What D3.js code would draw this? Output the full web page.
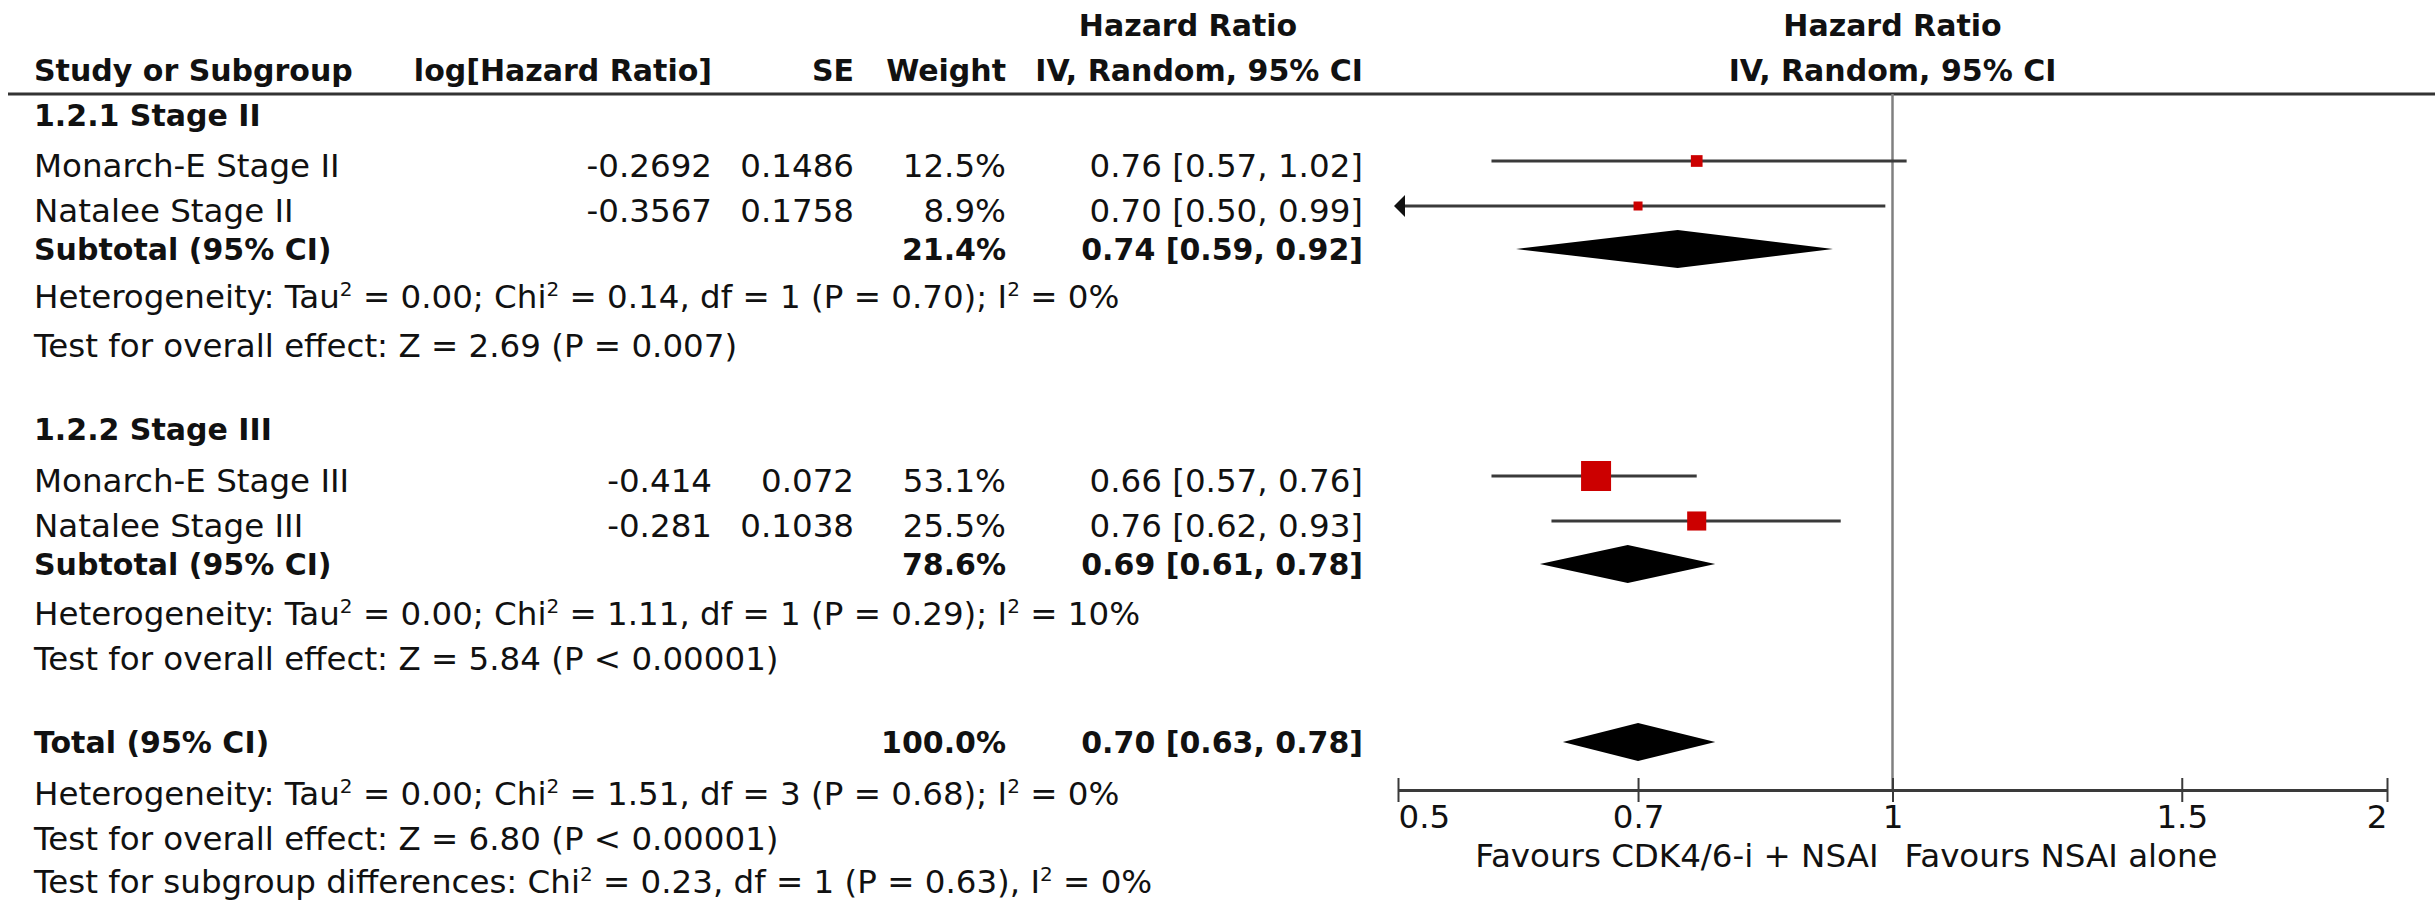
<!DOCTYPE html>
<html>
<head>
<meta charset="utf-8">
<title>Hazard Ratio - Stage II / Stage III</title>
<script src="https://d3js.org/d3.v7.min.js"></script>
<style>
body { margin: 0; background: white; }
svg { display: block; background: white; }
text { font-family: "DejaVu Sans", sans-serif; fill: #111; }
</style>
</head>
<body>
<svg id="plot"></svg>
<script>
// study rows
const studies = ["Monarch-E Stage II", "Natalee Stage II", "Monarch-E Stage III", "Natalee Stage III"];
const logHR = [-0.2692, -0.3567, -0.414, -0.281];
const se = [0.1486, 0.1758, 0.072, 0.1038];
const weight = [12.5, 8.9, 53.1, 25.5];
const hr = [0.76, 0.70, 0.66, 0.76];
const ciLow = [0.57, 0.50, 0.57, 0.62];
const ciHigh = [1.02, 0.99, 0.76, 0.93];

// subgroups
const groupNames = ["1.2.1 Stage II", "1.2.2 Stage III"];
const groupStudies = [[0, 1], [2, 3]];
const groupWeight = [21.4, 78.6];
const groupHR = [0.74, 0.69];
const groupLow = [0.59, 0.61];
const groupHigh = [0.92, 0.78];
const groupTau2 = ["0.00", "0.00"];
const groupChi2 = ["0.14", "1.11"];
const groupDf = [1, 1];
const groupHetP = ["= 0.70", "= 0.29"];
const groupI2 = [0, 10];
const groupZ = ["2.69", "5.84"];
const groupZP = ["= 0.007", "< 0.00001"];

// overall
const totalWeight = 100.0;
const totalHR = 0.70, totalLow = 0.63, totalHigh = 0.78;
const totalTau2 = "0.00", totalChi2 = "1.51", totalDf = 3, totalHetP = "= 0.68", totalI2 = 0;
const totalZ = "6.80", totalZP = "< 0.00001";
const diffChi2 = "0.23", diffDf = 1, diffP = "= 0.63", diffI2 = 0;

const axisTicks = [0.5, 0.7, 1, 1.5, 2];
const favours = ["Favours CDK4/6-i + NSAI", "Favours NSAI alone"];

// layout
const W = 2435, H = 901;
const fs = 32.5, fsBold = 30;
const col = {name: 34, logHR: 712, se: 854, weight: 1006, ci: 1363, ciHead: 1188};
const rowKeys = ["hdr1", "hdr2", "g0", "s0", "s1", "sub0", "het0", "z0",
                 "g1", "s2", "s3", "sub1", "het1", "z1", "tot", "hetT", "zT", "diff"];
const rowBase = [36, 81, 126, 177, 222, 260, 308, 357,
                 440, 492, 537, 575, 625, 670, 753, 805, 850, 893];
const ruleY = 94, axisY = 790;

var y = d3.scaleOrdinal().domain(rowKeys).range(rowBase);
var x = d3.scaleLog().domain([0.5, 2]).range([1398, 2387]);
var boxSize = d3.scaleSqrt().domain(d3.extent(weight)).range([9, 30]);

var f2 = d3.format(".2f");
var f1 = d3.format(".1f");
function ciText(m, lo, hi) { return f2(m) + " [" + f2(lo) + ", " + f2(hi) + "]"; }

var svg = d3.select("#plot").attr("width", W).attr("height", H);

// text with ^ marking a one-character superscript
function addText(xPos, yPos, str, anchor, bold) {
    var t = svg.append("text")
        .attr("x", xPos)
        .attr("y", yPos)
        .attr("text-anchor", anchor || "start")
        .style("font-size", (bold ? fsBold : fs) + "px")
        .style("font-weight", bold ? "bold" : "normal");
    var parts = str.split("^");
    t.append("tspan").text(parts[0]);
    for (var i = 1; i < parts.length; i++) {
        t.append("tspan").attr("dy", -12).style("font-size", "20px").text(parts[i][0]);
        t.append("tspan").attr("dy", 12).text(parts[i].slice(1));
    }
    return t;
}

function hetText(tau, chi, df, p, i2) {
    return "Heterogeneity: Tau^2 = " + tau + "; Chi^2 = " + chi + ", df = " + df + " (P " + p + "); I^2 = " + i2 + "%";
}

// headers
addText(col.ciHead, y("hdr1"), "Hazard Ratio", "middle", true);
addText(x(1), y("hdr1"), "Hazard Ratio", "middle", true);
addText(col.name, y("hdr2"), "Study or Subgroup", "start", true);
addText(col.logHR, y("hdr2"), "log[Hazard Ratio]", "end", true);
addText(col.se, y("hdr2"), "SE", "end", true);
addText(col.weight, y("hdr2"), "Weight", "end", true);
addText(col.ci, y("hdr2"), "IV, Random, 95% CI", "end", true);
addText(x(1), y("hdr2"), "IV, Random, 95% CI", "middle", true);

svg.append("line")
    .attr("x1", 8).attr("x2", W)
    .attr("y1", ruleY).attr("y2", ruleY)
    .attr("stroke", "#333").attr("stroke-width", 3);

// reference line at HR = 1
svg.append("line")
    .attr("x1", x(1)).attr("x2", x(1))
    .attr("y1", ruleY).attr("y2", axisY)
    .attr("stroke", "#808080").attr("stroke-width", 2.5);

// table rows
groupNames.forEach(function(name, g) {
    addText(col.name, y("g" + g), name, "start", true);
    groupStudies[g].forEach(function(i) {
        var ry = y("s" + i);
        addText(col.name, ry, studies[i]);
        addText(col.logHR, ry, String(logHR[i]), "end");
        addText(col.se, ry, String(se[i]), "end");
        addText(col.weight, ry, f1(weight[i]) + "%", "end");
        addText(col.ci, ry, ciText(hr[i], ciLow[i], ciHigh[i]), "end");
    });
    addText(col.name, y("sub" + g), "Subtotal (95% CI)", "start", true);
    addText(col.weight, y("sub" + g), f1(groupWeight[g]) + "%", "end", true);
    addText(col.ci, y("sub" + g), ciText(groupHR[g], groupLow[g], groupHigh[g]), "end", true);
    addText(col.name, y("het" + g), hetText(groupTau2[g], groupChi2[g], groupDf[g], groupHetP[g], groupI2[g]));
    addText(col.name, y("z" + g), "Test for overall effect: Z = " + groupZ[g] + " (P " + groupZP[g] + ")");
});

addText(col.name, y("tot"), "Total (95% CI)", "start", true);
addText(col.weight, y("tot"), f1(totalWeight) + "%", "end", true);
addText(col.ci, y("tot"), ciText(totalHR, totalLow, totalHigh), "end", true);
addText(col.name, y("hetT"), hetText(totalTau2, totalChi2, totalDf, totalHetP, totalI2));
addText(col.name, y("zT"), "Test for overall effect: Z = " + totalZ + " (P " + totalZP + ")");
addText(col.name, y("diff"), "Test for subgroup differences: Chi^2 = " + diffChi2 + ", df = " + diffDf + " (P " + diffP + "), I^2 = " + diffI2 + "%");

// forest: study CIs and boxes
var xMin = x.domain()[0];
var idx = d3.range(studies.length);
var plot = svg.append("g");

plot.selectAll("line.ci")
    .data(idx)
    .enter()
    .append("line")
    .attr("class", "ci")
    .attr("x1", function(i) { return x(Math.max(ciLow[i], xMin)); })
    .attr("x2", function(i) { return x(ciHigh[i]); })
    .attr("y1", function(i) { return y("s" + i) - 16; })
    .attr("y2", function(i) { return y("s" + i) - 16; })
    .attr("stroke", "#3a3a3a")
    .attr("stroke-width", 3);

// arrow where the CI runs off the left of the scale
plot.selectAll("path.arrow")
    .data(idx.filter(function(i) { return ciLow[i] <= xMin; }))
    .enter()
    .append("path")
    .attr("class", "arrow")
    .attr("d", function(i) {
        var ax = x(xMin) - 4, ay = y("s" + i) - 16;
        return "M" + ax + "," + ay + "L" + (ax + 11) + "," + (ay - 11) + "L" + (ax + 11) + "," + (ay + 11) + "Z";
    })
    .attr("fill", "#111");

plot.selectAll("rect.box")
    .data(idx)
    .enter()
    .append("rect")
    .attr("class", "box")
    .attr("x", function(i) { return x(hr[i]) - boxSize(weight[i]) / 2; })
    .attr("y", function(i) { return y("s" + i) - 16 - boxSize(weight[i]) / 2; })
    .attr("width", function(i) { return boxSize(weight[i]); })
    .attr("height", function(i) { return boxSize(weight[i]); })
    .attr("fill", "#cc0000");

// diamonds for subtotals and total
var diamonds = [
    {key: "sub0", m: groupHR[0], lo: groupLow[0], hi: groupHigh[0]},
    {key: "sub1", m: groupHR[1], lo: groupLow[1], hi: groupHigh[1]},
    {key: "tot", m: totalHR, lo: totalLow, hi: totalHigh}
];
plot.selectAll("path.diamond")
    .data(diamonds)
    .enter()
    .append("path")
    .attr("class", "diamond")
    .attr("d", function(d) {
        var cy = y(d.key) - 11, h = 19;
        return "M" + x(d.lo) + "," + cy + "L" + x(d.m) + "," + (cy - h) +
               "L" + x(d.hi) + "," + cy + "L" + x(d.m) + "," + (cy + h) + "Z";
    })
    .attr("fill", "#000");

// axis
var axisG = svg.append("g")
    .attr("transform", "translate(0," + axisY + ")")
    .call(d3.axisBottom(x).tickValues(axisTicks).tickFormat(function(d) { return String(d); }).tickSize(12).tickSizeOuter(0));

axisG.select(".domain").attr("stroke", "#3a3a3a").attr("stroke-width", 3);
axisG.selectAll(".tick line").attr("y1", -12).attr("y2", 12).attr("stroke", "#3a3a3a").attr("stroke-width", 2);
axisG.selectAll(".tick text")
    .attr("y", 38)
    .attr("dy", null)
    .attr("fill", "#111")
    .style("font-family", "DejaVu Sans, sans-serif")
    .style("font-size", fs + "px")
    .attr("text-anchor", function(d, i) { return i == 0 ? "start" : (i == axisTicks.length - 1 ? "end" : "middle"); });

addText(x(1) - 14, 867, favours[0], "end");
addText(x(1) + 12, 867, favours[1], "start");
</script>
</body>
</html>
